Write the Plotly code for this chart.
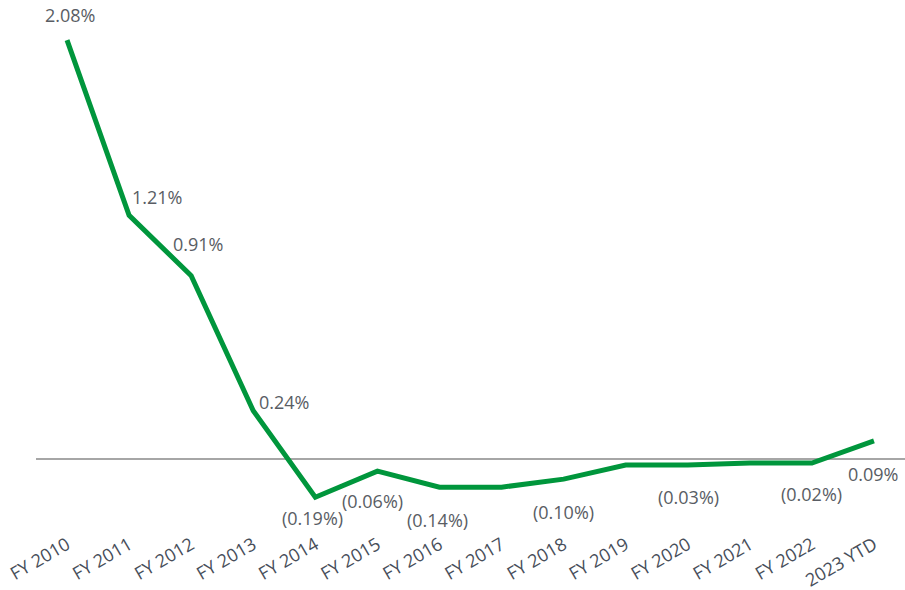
import plotly.graph_objects as go

categories = ["FY 2010", "FY 2011", "FY 2012", "FY 2013", "FY 2014", "FY 2015", "FY 2016",
              "FY 2017", "FY 2018", "FY 2019", "FY 2020", "FY 2021", "FY 2022", "2023 YTD"]
values = [2.08, 1.21, 0.91, 0.24, -0.19, -0.06, -0.14, -0.14, -0.10, -0.03, -0.03, -0.02, -0.02, 0.09]
show_label = [True, True, True, True, True, True, True, False, True, False, True, False, True, True]
# label offsets (pixels) relative to each point
label_dx = [3, 28, 7, 31, -3, -5, -2, 0, 0, 0, 1, 0, 0, -1]
label_dy = [25, 18, 32, 9, -21, -30, -33, 0, -33, 0, -32, 0, -31, -33]

GREEN = "#00963c"
TEXT = "#595d64"
TICK = "#474e5a"
FONT = "Open Sans"

def fmt(v):
    return f"({abs(v):.2f}%)" if v < 0 else f"{v:.2f}%"

fig = go.Figure()
fig.add_trace(go.Scatter(x=categories, y=values, mode="lines",
                         line=dict(color=GREEN, width=5), hoverinfo="skip"))

for c, v, s, dx, dy in zip(categories, values, show_label, label_dx, label_dy):
    if s:
        fig.add_annotation(x=c, y=v, text=fmt(v), showarrow=False,
                           xshift=dx, yshift=dy,
                           font=dict(family=FONT, size=18, color=TEXT))

fig.update_layout(
    width=905, height=590,
    margin=dict(l=36, r=0, t=20, b=60),
    plot_bgcolor="white", paper_bgcolor="white",
    showlegend=False,
    xaxis=dict(type="category", range=[-0.5, 13.5], showgrid=False, zeroline=False,
               showline=False, ticks="", tickangle=-30,
               tickfont=dict(family=FONT, size=18, color=TICK), automargin=False),
    yaxis=dict(range=[-0.3525, 2.1797], showgrid=False, showticklabels=False,
               zeroline=True, zerolinecolor="#a6a6a6", zerolinewidth=2,
               showline=False, ticks="", automargin=False),
)

fig.write_html("out.html", config={"displayModeBar": False},
               post_script="document.body.style.margin='0';document.body.style.overflow='hidden';")
